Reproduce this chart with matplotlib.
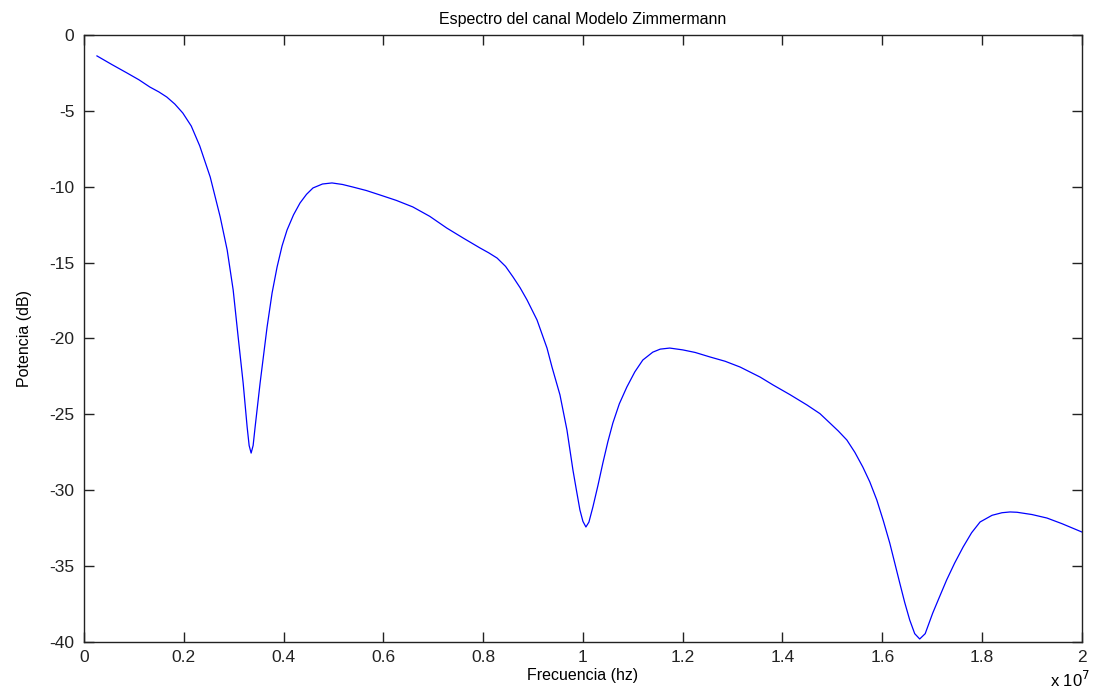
import matplotlib
matplotlib.use("Agg")
import matplotlib.pyplot as plt
from matplotlib.ticker import FuncFormatter

# frecuencia en unidades de 1e7 Hz, potencia en dB
freq_e7 = [0.026, 0.056, 0.086, 0.110, 0.132, 0.150, 0.166, 0.182, 0.198, 0.215,
           0.232, 0.253, 0.273, 0.287, 0.299, 0.309, 0.319, 0.327, 0.331, 0.335,
           0.339, 0.343, 0.353, 0.367, 0.377, 0.387, 0.397, 0.407, 0.420, 0.433,
           0.446, 0.459, 0.478, 0.497, 0.518, 0.539, 0.566, 0.593, 0.626, 0.659,
           0.693, 0.727, 0.761, 0.794, 0.811, 0.828, 0.845, 0.860, 0.874, 0.888,
           0.908, 0.928, 0.938, 0.954, 0.968, 0.980, 0.987, 0.994, 1.000, 1.006,
           1.012, 1.020, 1.030, 1.040, 1.050, 1.060, 1.073, 1.088, 1.104, 1.120,
           1.140, 1.155, 1.174, 1.200, 1.225, 1.255, 1.285, 1.315, 1.355, 1.381,
           1.415, 1.449, 1.475, 1.495, 1.512, 1.529, 1.545, 1.561, 1.575, 1.589,
           1.602, 1.615, 1.635, 1.645, 1.655, 1.665, 1.675, 1.686, 1.701, 1.715,
           1.729, 1.745, 1.762, 1.779, 1.796, 1.820, 1.840, 1.856, 1.870, 1.900,
           1.930, 1.960, 2.000]
potencia_db = [-1.38, -1.95, -2.50, -2.95, -3.43, -3.75, -4.09, -4.55, -5.14, -6.00,
               -7.31, -9.36, -11.99, -14.17, -16.80, -19.90, -22.93, -25.83, -27.05, -27.55,
               -27.05, -25.83, -22.93, -19.24, -17.00, -15.29, -13.90, -12.85, -11.85, -11.07,
               -10.50, -10.08, -9.82, -9.75, -9.85, -10.02, -10.25, -10.54, -10.90, -11.33,
               -11.95, -12.72, -13.40, -14.04, -14.35, -14.70, -15.25, -15.95, -16.65, -17.46,
               -18.78, -20.63, -21.88, -23.72, -26.03, -28.67, -30.00, -31.30, -32.05, -32.42,
               -32.10, -31.10, -29.70, -28.20, -26.80, -25.57, -24.30, -23.20, -22.20, -21.42,
               -20.90, -20.70, -20.63, -20.75, -20.92, -21.22, -21.50, -21.88, -22.54, -23.06,
               -23.70, -24.38, -24.95, -25.57, -26.10, -26.69, -27.50, -28.47, -29.45, -30.64,
               -32.00, -33.48, -36.11, -37.40, -38.55, -39.45, -39.80, -39.45, -38.10, -37.00,
               -35.91, -34.80, -33.74, -32.80, -32.09, -31.65, -31.48, -31.43, -31.45, -31.60,
               -31.83, -32.20, -32.75]

x_ticks = [0, 0.2, 0.4, 0.6, 0.8, 1.0, 1.2, 1.4, 1.6, 1.8, 2.0]
y_ticks = [-40, -35, -30, -25, -20, -15, -10, -5, 0]

plt.rcParams['font.family'] = ['Liberation Sans', 'DejaVu Sans']
plt.rcParams['axes.unicode_minus'] = False

fig = plt.figure(figsize=(10.95, 6.94), dpi=100)
ax = fig.add_axes([0.0767, 0.0749, 0.9113, 0.8747])

ax.plot(freq_e7, potencia_db, color='#0000ff', linewidth=0.9)

ax.set_xlim(0, 2)
ax.set_ylim(-40, 0)
ax.set_xticks(x_ticks)
ax.set_yticks(y_ticks)
ax.xaxis.set_major_formatter(FuncFormatter(lambda v, p: '%g' % v))
ax.tick_params(direction='in', top=True, right=True, length=7, width=1,
               labelsize=12.5, colors='#222222')
ax.tick_params(axis='x', pad=6)
ax.tick_params(axis='y', pad=7)
for s in ax.spines.values():
    s.set_linewidth(1.0)
    s.set_color('#222222')

ax.set_title('Espectro del canal Modelo Zimmermann', fontsize=11.5, pad=8)
ax.set_xlabel('Frecuencia (hz)', fontsize=11.5, labelpad=2)
ax.set_ylabel('Potencia (dB)', fontsize=11.5, labelpad=12)
ax.text(1.008, -0.046, 'x 10$^{7}$', transform=ax.transAxes, ha='right', va='top',
        fontsize=12)

fig.savefig('out.png', dpi=100)
